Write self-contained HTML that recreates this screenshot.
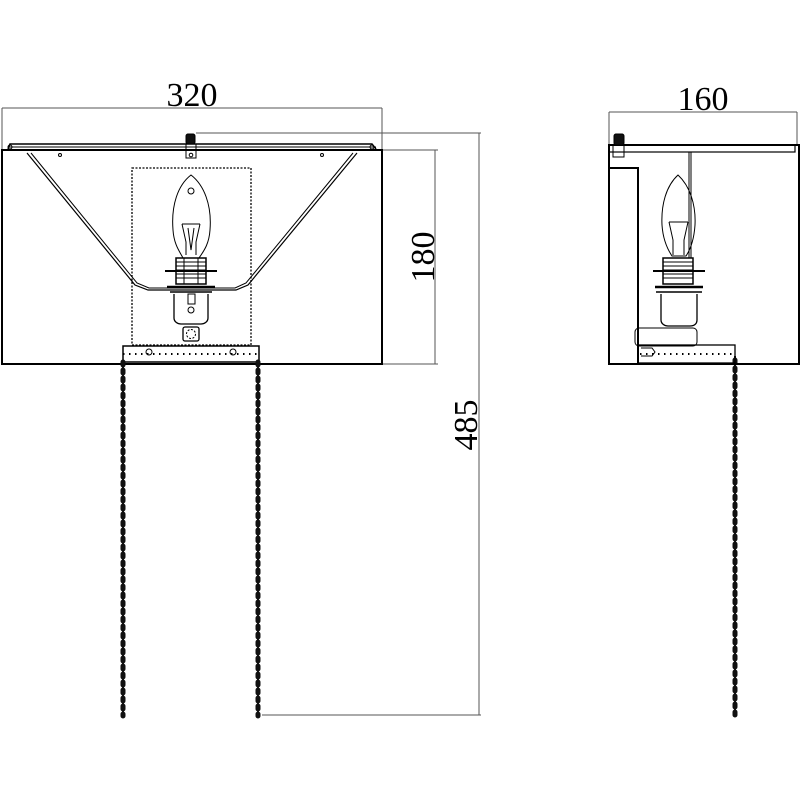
<!DOCTYPE html>
<html><head><meta charset="utf-8"><style>html,body{margin:0;padding:0;background:#fff}svg{display:block}</style></head><body>
<svg width="800" height="800" viewBox="0 0 800 800" xmlns="http://www.w3.org/2000/svg" font-family="Liberation Serif, serif">
<g stroke="#000" fill="none" stroke-width="1">
<line x1="2" y1="108" x2="382" y2="108" stroke="#555"/>
<line x1="2" y1="108" x2="2" y2="150" stroke="#555"/>
<line x1="382" y1="108" x2="382" y2="150" stroke="#555"/>
<line x1="382" y1="150" x2="438" y2="150" stroke="#555"/>
<line x1="382" y1="364" x2="438" y2="364" stroke="#555"/>
<line x1="435" y1="150" x2="435" y2="364" stroke="#555"/>
<line x1="196" y1="133" x2="481" y2="133" stroke="#555"/>
<line x1="262" y1="715" x2="481" y2="715" stroke="#555"/>
<line x1="479" y1="133" x2="479" y2="715" stroke="#555"/>

<rect x="2" y="150" width="380" height="214" stroke-width="2"/>
<path d="M8 149 L10 144 L372 144 L376 149" stroke-width="1.5"/>
<line x1="8" y1="147" x2="376" y2="147"/>
<circle cx="10" cy="147" r="2"/><circle cx="372" cy="147" r="2"/>
<circle cx="60" cy="155" r="1.5"/><circle cx="322" cy="155" r="1.5"/>
<path d="M27 153 L135 285 L148 290 L236 290 L248 285 L357 153" stroke-width="1.2"/>
<path d="M31 153 L137 283 L149 288 L235 288 L246 283 L353 153" stroke-width="1"/>
<rect x="186" y="134" width="9" height="10" fill="#111" rx="2"/>
<rect x="186" y="144" width="10" height="14" stroke-width="1"/>
<circle cx="191" cy="155" r="1.8"/>
<rect x="132" y="168" width="119" height="177" stroke-dasharray="2 1.5" stroke-width="1.3"/>
<path d="M191 175 C178 185 171 205 173 230 C174 245 180 252 183 258 L199 258 C203 252 209 245 210 230 C212 205 204 185 191 175 Z"/>
<circle cx="191" cy="191" r="3"/>
<path d="M182 224 L186 242 L186 255 M200 224 L196 242 L196 255 M182 224 L200 224 M188 228 L191 250 L194 228"/>
<rect x="176" y="258" width="30" height="26" fill="#fff" stroke-width="1.5"/>
<g stroke-width="1"><line x1="176" y1="262" x2="206" y2="262"/><line x1="176" y1="266" x2="206" y2="266"/><line x1="176" y1="270" x2="206" y2="270"/><line x1="176" y1="274" x2="206" y2="274"/><line x1="176" y1="278" x2="206" y2="278"/><line x1="184" y1="258" x2="184" y2="284"/><line x1="198" y1="258" x2="198" y2="284"/></g>
<line x1="165" y1="271" x2="217" y2="271" stroke-width="2"/>
<line x1="167" y1="287" x2="215" y2="287" stroke-width="2.5"/>
<line x1="170" y1="292" x2="212" y2="292" stroke-width="1.5"/>
<path d="M174 294 L174 318 C174 322 178 324 181 324 L201 324 C204 324 208 322 208 318 L208 294" stroke-width="1.3"/>
<rect x="188" y="294" width="7" height="10"/>
<circle cx="191" cy="310" r="3"/>
<rect x="183" y="327" width="16" height="14" rx="2" stroke-width="1.3"/>
<circle cx="191" cy="334" r="4.5" stroke-dasharray="2 1.5"/>
<rect x="123" y="346" width="136" height="16" stroke-width="1.5"/>
<line x1="123" y1="354" x2="259" y2="354" stroke-dasharray="1.5 4.5" stroke-width="2"/>
<circle cx="149" cy="352" r="3"/><circle cx="233" cy="352" r="3"/>
</g>
<g stroke="#111" fill="none">
<line x1="123" y1="360" x2="123" y2="716" stroke-width="2"/>
<line x1="123" y1="362" x2="123" y2="716" stroke-width="5" stroke-dasharray="3 5" stroke-linecap="round"/>
<line x1="258" y1="360" x2="258" y2="716" stroke-width="2"/>
<line x1="258" y1="362" x2="258" y2="716" stroke-width="5" stroke-dasharray="3 5" stroke-linecap="round"/>
<line x1="735" y1="356" x2="735" y2="716" stroke-width="2"/>
<line x1="735" y1="360" x2="735" y2="716" stroke-width="5" stroke-dasharray="3 5" stroke-linecap="round"/>
</g>

<g stroke="#000" fill="none">
<line x1="609" y1="112" x2="797" y2="112" stroke="#555"/>
<line x1="609" y1="112" x2="609" y2="146" stroke="#555"/>
<line x1="797" y1="112" x2="797" y2="146" stroke="#555"/>
<rect x="609" y="145" width="190" height="219" stroke-width="2"/>
<rect x="609" y="145" width="186" height="7" stroke-width="1.2"/>
<rect x="614" y="134" width="10" height="11" fill="#111" rx="2"/>
<rect x="613" y="145" width="11" height="12"/>
<rect x="609" y="168" width="29" height="196" stroke-width="2"/>
<line x1="689" y1="152" x2="689" y2="270"/>
<line x1="691" y1="152" x2="691" y2="270"/>
<path d="M678 175 C666 186 661 205 662 225 C663 240 668 250 672 256 L686 256 C690 250 694 240 695 225 C696 205 690 186 678 175 Z"/>
<path d="M669 222 L673 240 L673 255 M688 222 L684 240 L684 255 M669 222 L688 222"/>
<rect x="663" y="258" width="30" height="26" fill="#fff" stroke-width="1.5"/>
<g stroke-width="1"><line x1="663" y1="262" x2="693" y2="262"/><line x1="663" y1="266" x2="693" y2="266"/><line x1="663" y1="270" x2="693" y2="270"/><line x1="663" y1="274" x2="693" y2="274"/><line x1="663" y1="278" x2="693" y2="278"/></g>
<line x1="653" y1="271" x2="705" y2="271" stroke-width="2"/>
<line x1="655" y1="287" x2="703" y2="287" stroke-width="2.5"/>
<line x1="656" y1="292" x2="702" y2="292" stroke-width="1.5"/>
<path d="M661 294 L661 320 C661 324 665 326 668 326 L690 326 C694 326 697 324 697 320 L697 294" stroke-width="1.3"/>
<rect x="635" y="328" width="62" height="18" rx="4"/>
<rect x="638" y="345" width="97" height="18" stroke-width="1.3"/>
<line x1="640" y1="354" x2="733" y2="354" stroke-dasharray="1.5 4.5" stroke-width="2"/>
<path d="M641 348 L652 348 L655 352 L652 356 L641 356"/>
</g>

<g font-size="34" fill="#000">
<text x="192" y="106" text-anchor="middle">320</text>
<text x="703" y="110" text-anchor="middle">160</text>
<text transform="translate(434,257) rotate(-90)" text-anchor="middle">180</text>
<text transform="translate(477,425) rotate(-90)" text-anchor="middle">485</text>
</g>
</svg>
</body></html>
